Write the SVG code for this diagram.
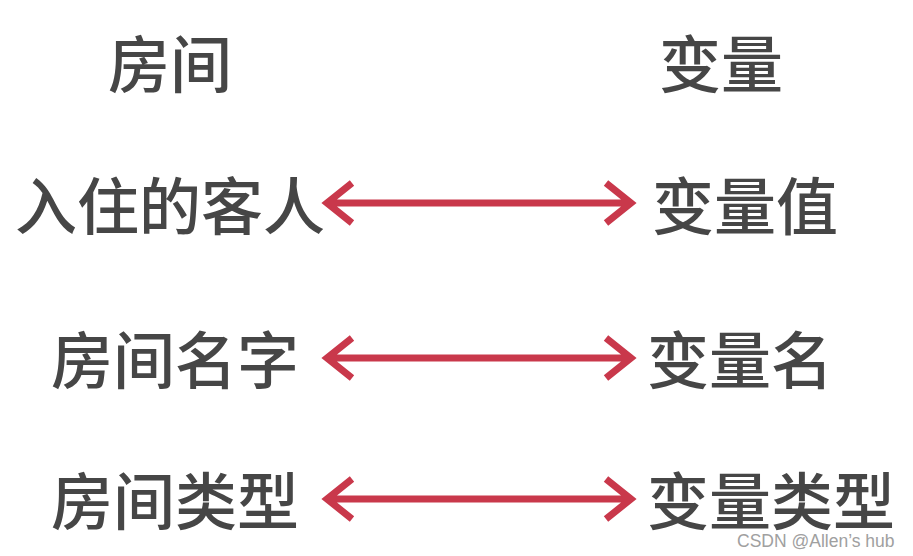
<svg xmlns="http://www.w3.org/2000/svg" width="913" height="556" viewBox="0 0 913 556">
<style>
.t{font-family:"Noto Sans CJK SC","Noto Sans",sans-serif;font-weight:500;font-size:62px;fill:#464646}
.a{fill:none;stroke:#c9384b;stroke-width:7;stroke-linejoin:miter;stroke-linecap:butt}
.w{font-family:"Liberation Sans",Arial,sans-serif;font-size:17.5px;fill:#a0a0a0}
</style>
<rect width="913" height="556" fill="#ffffff"/>
<g id="h-left"><text class="t" x="108" y="88">房间</text></g>
<g id="h-right"><text class="t" x="659" y="88">变量</text></g>
<g id="n-guest"><text class="t" x="15" y="230">入住的客人</text></g>
<g id="n-value"><text class="t" x="652" y="230">变量值</text></g>
<g id="n-roomname"><text class="t" x="51" y="384">房间名字</text></g>
<g id="n-varname"><text class="t" x="647" y="384">变量名</text></g>
<g id="n-roomtype"><text class="t" x="51" y="525">房间类型</text></g>
<g id="n-vartype"><text class="t" x="647" y="525">变量类型</text></g>
<g id="connectors">
<path class="a" d="M327 203H631M352 183L327 203L352 223M606 183L631 203L606 223"/>
<path class="a" d="M327 358H631M352 338L327 358L352 378M606 338L631 358L606 378"/>
<path class="a" d="M327 499H631M352 479L327 499L352 519M606 479L631 499L606 519"/>
</g>
<text class="w" x="737" y="547">CSDN @Allen’s hub</text>
</svg>
